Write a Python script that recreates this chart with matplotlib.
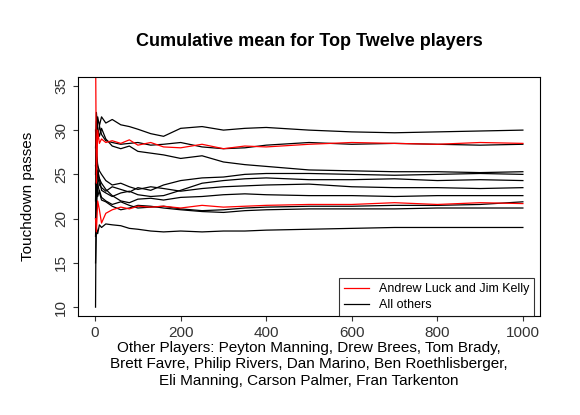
import matplotlib
matplotlib.use("Agg")
import matplotlib.pyplot as plt

plt.rcParams["font.family"] = ["Liberation Sans", "DejaVu Sans"]

games = [1, 3, 6, 10, 15, 25, 40, 60, 80, 100, 130, 160, 200, 250, 300, 350, 400, 500, 600, 700, 800, 900, 1000]

red_lines = [
    [40, 24, 30, 28.5, 29, 28.6, 28.8, 28.5, 28.9, 28.3, 28.6, 28.1, 28.0, 28.4, 27.9, 28.2, 28.1, 28.4, 28.6, 28.5, 28.4, 28.6, 28.5],
    [20, 18.5, 22, 21.0, 19.5, 20.6, 21.0, 21.3, 21.1, 21.4, 21.3, 21.4, 21.2, 21.5, 21.3, 21.4, 21.5, 21.6, 21.6, 21.8, 21.6, 21.8, 21.7],
]
black_lines = [
    [10, 27, 31.5, 30.5, 31.5, 30.8, 31.2, 30.6, 30.4, 30.1, 29.6, 29.3, 30.2, 30.4, 30.0, 30.2, 30.3, 30.0, 29.8, 29.7, 29.8, 29.9, 30.0],
    [28, 31, 29, 30.5, 29.5, 28.8, 28.6, 28.4, 28.5, 28.6, 28.3, 28.4, 28.6, 28.1, 27.9, 28.0, 28.3, 28.6, 28.4, 28.5, 28.4, 28.3, 28.4],
    [25, 32, 30, 29.3, 30.2, 29.0, 28.2, 27.9, 28.2, 27.6, 27.4, 27.2, 26.8, 27.1, 26.4, 26.1, 25.9, 25.5, 25.4, 25.3, 25.3, 25.2, 25.3],
    [22, 28, 26, 23.8, 23.5, 23.1, 23.6, 23.3, 23.0, 23.5, 23.2, 23.8, 24.3, 24.6, 24.7, 25.0, 25.1, 25.1, 25.0, 24.9, 25.0, 25.1, 25.0],
    [24, 21, 24, 24.6, 23.2, 22.9, 22.5, 22.9, 23.1, 22.7, 22.5, 22.6, 23.2, 24.0, 24.3, 24.5, 24.6, 24.4, 24.4, 24.5, 24.3, 24.4, 24.3],
    [30, 27, 26, 25.4, 25.0, 24.3, 23.8, 24.0, 23.6, 23.3, 23.6, 23.4, 23.1, 23.4, 23.6, 23.7, 23.8, 23.9, 23.6, 23.5, 23.5, 23.4, 23.5],
    [18, 22, 25.5, 24.5, 24.0, 23.3, 22.6, 22.0, 21.8, 22.2, 22.3, 22.1, 22.4, 22.5, 22.7, 22.8, 22.7, 22.6, 22.6, 22.5, 22.6, 22.6, 22.6],
    [26, 24, 22.5, 23.2, 22.4, 22.0, 21.6, 21.9, 21.5, 21.2, 21.3, 21.4, 21.1, 20.9, 21.0, 21.2, 21.3, 21.4, 21.4, 21.5, 21.5, 21.6, 21.9],
    [20, 23, 24, 23.0, 22.1, 21.9, 21.4, 21.0, 21.2, 21.5, 21.4, 21.2, 21.0, 20.8, 20.7, 20.9, 21.0, 21.1, 21.1, 21.1, 21.2, 21.2, 21.2],
    [15, 19, 18.3, 19.3, 19.0, 19.4, 19.3, 19.2, 18.9, 18.8, 18.6, 18.5, 18.6, 18.5, 18.6, 18.6, 18.7, 18.8, 18.9, 19.0, 19.0, 19.0, 19.0],
]

fig = plt.figure(figsize=(5.8, 4.15), dpi=100)
ax = fig.add_axes([78 / 580, 1 - 316 / 415, 462 / 580, 239 / 415])

for ys in black_lines:
    ax.plot(games, ys, color="black", lw=0.9)
for ys in red_lines:
    ax.plot(games, ys, color="red", lw=0.9)

ax.set_xlim(-40, 1040)
ax.set_ylim(9, 36)
ax.set_xticks([0, 200, 400, 600, 800, 1000])
ax.set_yticks([10, 15, 20, 25, 30, 35])
ax.tick_params(axis="y", labelrotation=90)
for lab in ax.get_yticklabels():
    lab.set_va("center")
ax.tick_params(labelsize=11, colors="#333333")
ax.set_ylabel("Touchdown passes", fontsize=11, labelpad=14)
ax.set_title("Cumulative mean for Top Twelve players", fontsize=13, weight="bold", pad=22)
ax.set_xlabel("Other Players: Peyton Manning, Drew Brees, Tom Brady,\n"
              "Brett Favre, Philip Rivers, Dan Marino, Ben Roethlisberger,\n"
              "Eli Manning, Carson Palmer, Fran Tarkenton", fontsize=11, labelpad=1)

leg = ax.legend([plt.Line2D([], [], color="red", lw=0.9), plt.Line2D([], [], color="black", lw=0.9)],
                ["Andrew Luck and Jim Kelly", "All others"],
                loc="lower left", bbox_to_anchor=(0.565, 0.0), fontsize=9,
                frameon=True, fancybox=False, edgecolor="black", borderaxespad=0,
                labelspacing=0.3)
leg.get_frame().set_linewidth(0.8)

fig.savefig("out.png", dpi=100)
